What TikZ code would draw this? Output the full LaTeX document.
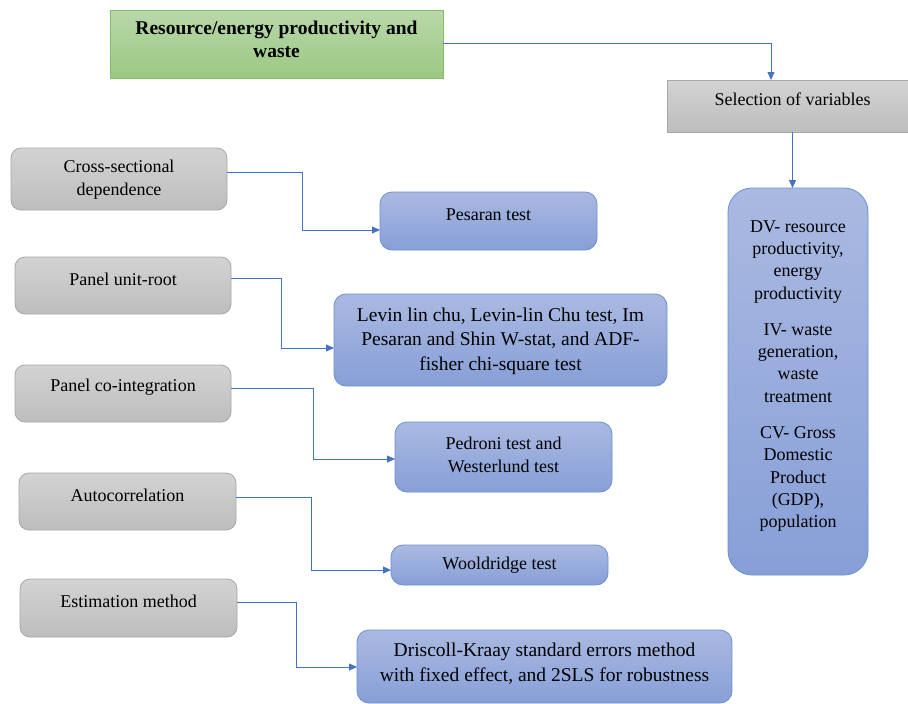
\documentclass[tikz,border=0pt]{standalone}
\usepackage{fontspec}
\newfontfamily\tnr{LiberationSerif-Regular.ttf}[BoldFont=LiberationSerif-Bold.ttf]
\usetikzlibrary{arrows.meta}
\definecolor{conncol}{HTML}{4472C4}
\definecolor{grayT}{HTML}{D3D3D3}
\definecolor{grayB}{HTML}{BDBDBD}
\definecolor{grayD}{HTML}{A8A8A8}
\definecolor{blueT}{HTML}{AAB9E1}
\definecolor{blueB}{HTML}{879FD7}
\definecolor{blueD}{HTML}{6A8FD3}
\definecolor{greenT}{HTML}{B8D8A9}
\definecolor{greenB}{HTML}{9CC882}
\definecolor{greenD}{HTML}{86BE68}
\tikzset{
  boxbase/.style={inner sep=0pt, outer sep=0pt, line width=0.8pt},
  graybox/.style={boxbase, draw=grayD, top color=grayT, bottom color=grayB, rounded corners=10pt},
  bluebox/.style={boxbase, draw=blueD, top color=blueT, bottom color=blueB, rounded corners=12pt},
  greenbox/.style={boxbase, draw=greenD, top color=greenT, bottom color=greenB},
  selbox/.style={boxbase, draw=grayD, top color=grayT, bottom color=grayB},
  txt/.style={inner sep=0pt, align=center, font=\tnr\fontsize{18}{22.4}\selectfont, text=black},
  bigtxt/.style={txt, font=\tnr\fontsize{19.5}{24.5}\selectfont},
  conn/.style={draw=conncol, line width=0.8pt, -{Triangle[length=8pt,width=7pt]}},
}
\begin{document}
\begin{tikzpicture}[x=1pt,y=-1pt]
\useasboundingbox (0,0) rectangle (908,704);
\fill[white] (0,0) rectangle (908,704);
% boxes
\node[greenbox, minimum width=333pt, minimum height=68pt] (green) at (276.5,44) {};
\node[selbox, minimum width=251pt, minimum height=52pt] (sel) at (792.5,106) {};
\node[bluebox, rounded corners=24pt, minimum width=140pt, minimum height=387pt] (dv) at (798,381.5) {};
\node[graybox, minimum width=216pt, minimum height=62pt] (g1) at (119,179) {};
\node[graybox, minimum width=216pt, minimum height=57pt] (g2) at (123,285.5) {};
\node[graybox, minimum width=216pt, minimum height=57pt] (g3) at (123,393.5) {};
\node[graybox, minimum width=217pt, minimum height=57pt] (g4) at (127.5,501.5) {};
\node[graybox, minimum width=217pt, minimum height=58pt] (g5) at (128.5,608) {};
\node[bluebox, minimum width=217pt, minimum height=58pt] (b1) at (488.5,221) {};
\node[bluebox, minimum width=333pt, minimum height=92pt] (b2) at (500.5,340) {};
\node[bluebox, minimum width=217pt, minimum height=70pt] (b3) at (503.5,457) {};
\node[bluebox, minimum width=217pt, minimum height=40pt] (b4) at (499.5,565) {};
\node[bluebox, minimum width=375pt, minimum height=73pt] (b5) at (544.5,666.5) {};
% texts
\node[txt, font=\tnr\fontsize{19.5}{23}\selectfont\bfseries] (tgreen) at (276.5,39.5) {Resource/energy productivity and\\waste};
\node[txt] (tsel) at (792.5,99) {Selection of variables};
\node[txt] (tdv) at (798,376) {DV- resource\\productivity,\\energy\\productivity\\[13.5pt]IV- waste\\generation,\\waste\\treatment\\[13.5pt]CV- Gross\\Domestic\\Product\\(GDP),\\population};
\node[txt] (tg1) at (119,179.5) {Cross-sectional\\dependence};
\node[txt] (tg2) at (123,279) {Panel unit-root};
\node[txt] (tg3) at (123,387) {Panel co-integration};
\node[txt] (tg4) at (127.5,495) {Autocorrelation};
\node[txt] (tg5) at (128.5,601) {Estimation method};
\node[txt] (tb1) at (488.5,215) {Pesaran test};
\node[bigtxt] (tb2) at (500.5,341) {Levin lin chu, Levin-lin Chu test, Im\\Pesaran and Shin W-stat, and ADF-\\fisher chi-square test};
\node[txt] (tb3) at (503.5,455) {Pedroni test and\\Westerlund test};
\node[txt] (tb4) at (499.5,565) {Wooldridge test};
\node[bigtxt] (tb5) at (544.5,663.5) {Driscoll-Kraay standard errors method\\with fixed effect, and 2SLS for robustness};
% bend coordinates
\coordinate (k0) at (771,43);
\coordinate (k1) at (302,230);
\coordinate (k2) at (281,348);
\coordinate (k3) at (313,459);
\coordinate (k4) at (311,570);
\coordinate (k5) at (296,667);
% connectors
\draw[conn] ([yshift=1pt]green.east) -- (k0) -- (k0 |- sel.north);
\draw[conn] (sel.south) -- (sel.south |- dv.north);
\draw[conn] ([yshift=7pt]g1.east) -| (k1) -- (k1 -| b1.west);
\draw[conn] ([yshift=7.5pt]g2.east) -| (k2) -- (k2 -| b2.west);
\draw[conn] ([yshift=5.5pt]g3.east) -| (k3) -- (k3 -| b3.west);
\draw[conn] ([yshift=4.5pt]g4.east) -| (k4) -- (k4 -| b4.west);
\draw[conn] ([yshift=6pt]g5.east) -| (k5) -- (k5 -| b5.west);
\end{tikzpicture}
\end{document}
